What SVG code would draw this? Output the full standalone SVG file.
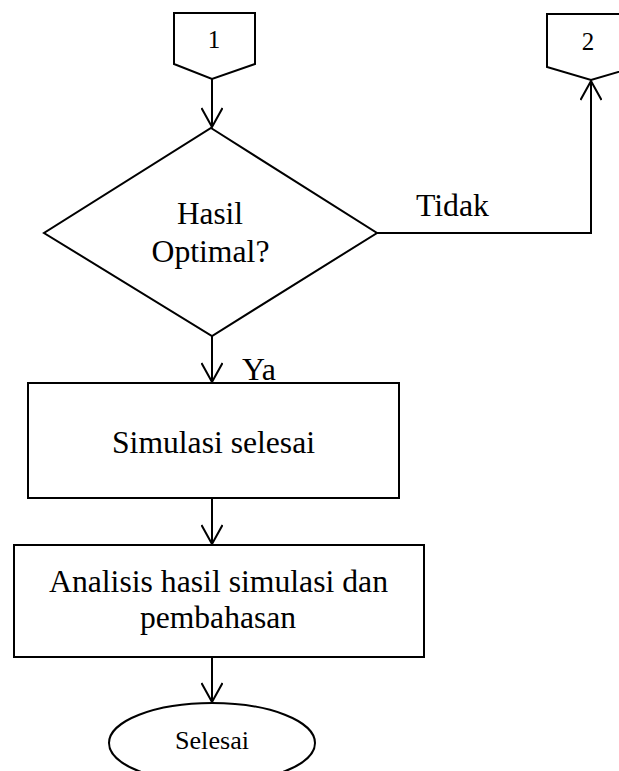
<svg xmlns="http://www.w3.org/2000/svg" width="619" height="771" viewBox="0 0 619 771">
<style>
.s{fill:#fff;stroke:#000;stroke-width:2}
.c{fill:none;stroke:#000;stroke-width:2}
text{font-family:'Liberation Serif','Times New Roman',Times,serif;fill:#000;text-anchor:middle}
.m{font-size:31px}
.n{font-size:25px}
.e{font-size:26px}
</style>
<defs>
<marker id="a" viewBox="0 0 22 22" refX="20" refY="11" markerWidth="22" markerHeight="22" markerUnits="userSpaceOnUse" orient="auto">
<path d="M1,0.5 L20,11 L1,21.5" fill="none" stroke="#000" stroke-width="2"/>
</marker>
</defs>
<rect width="619" height="771" fill="#fff"/>
<g id="connectors">
<line class="c" x1="212" y1="79" x2="212" y2="127" marker-end="url(#a)"/>
<polyline class="c" points="377,233 591,233 591,81" marker-end="url(#a)"/>
<line class="c" x1="212" y1="336" x2="212" y2="382" marker-end="url(#a)"/>
<line class="c" x1="212" y1="498" x2="212" y2="544" marker-end="url(#a)"/>
<line class="c" x1="212" y1="657" x2="212" y2="702" marker-end="url(#a)"/>
<text class="m" x="452.5" y="216" textLength="73" lengthAdjust="spacingAndGlyphs">Tidak</text>
<text class="m" x="259" y="380" textLength="34" lengthAdjust="spacingAndGlyphs">Ya</text>
</g>
<g id="conn1">
<polygon class="s" points="174,13 255,13 255,64 212,79 174,64"/>
<text class="n" x="214" y="48">1</text>
</g>
<g id="conn2">
<polygon class="s" points="547,14 635,14 635,67 591,80 547,67"/>
<text class="n" x="588" y="50">2</text>
</g>
<g id="decision">
<polygon class="s" points="211,128 377,233 212,336 44,233"/>
<text class="m" x="210" y="224" textLength="66" lengthAdjust="spacingAndGlyphs">Hasil</text>
<text class="m" x="210.5" y="262" textLength="118" lengthAdjust="spacingAndGlyphs">Optimal?</text>
</g>
<g id="simulasi">
<rect class="s" x="28" y="383" width="371" height="115"/>
<text class="m" x="213.5" y="453" textLength="203" lengthAdjust="spacingAndGlyphs">Simulasi selesai</text>
</g>
<g id="analisis">
<rect class="s" x="14" y="545" width="410" height="112"/>
<text class="m" x="218.5" y="592" textLength="339" lengthAdjust="spacingAndGlyphs">Analisis hasil simulasi dan</text>
<text class="m" x="218" y="628" textLength="156" lengthAdjust="spacingAndGlyphs">pembahasan</text>
</g>
<g id="selesai">
<ellipse class="s" cx="212" cy="743" rx="103" ry="40"/>
<text class="e" x="212" y="749" textLength="74" lengthAdjust="spacingAndGlyphs">Selesai</text>
</g>
</svg>
